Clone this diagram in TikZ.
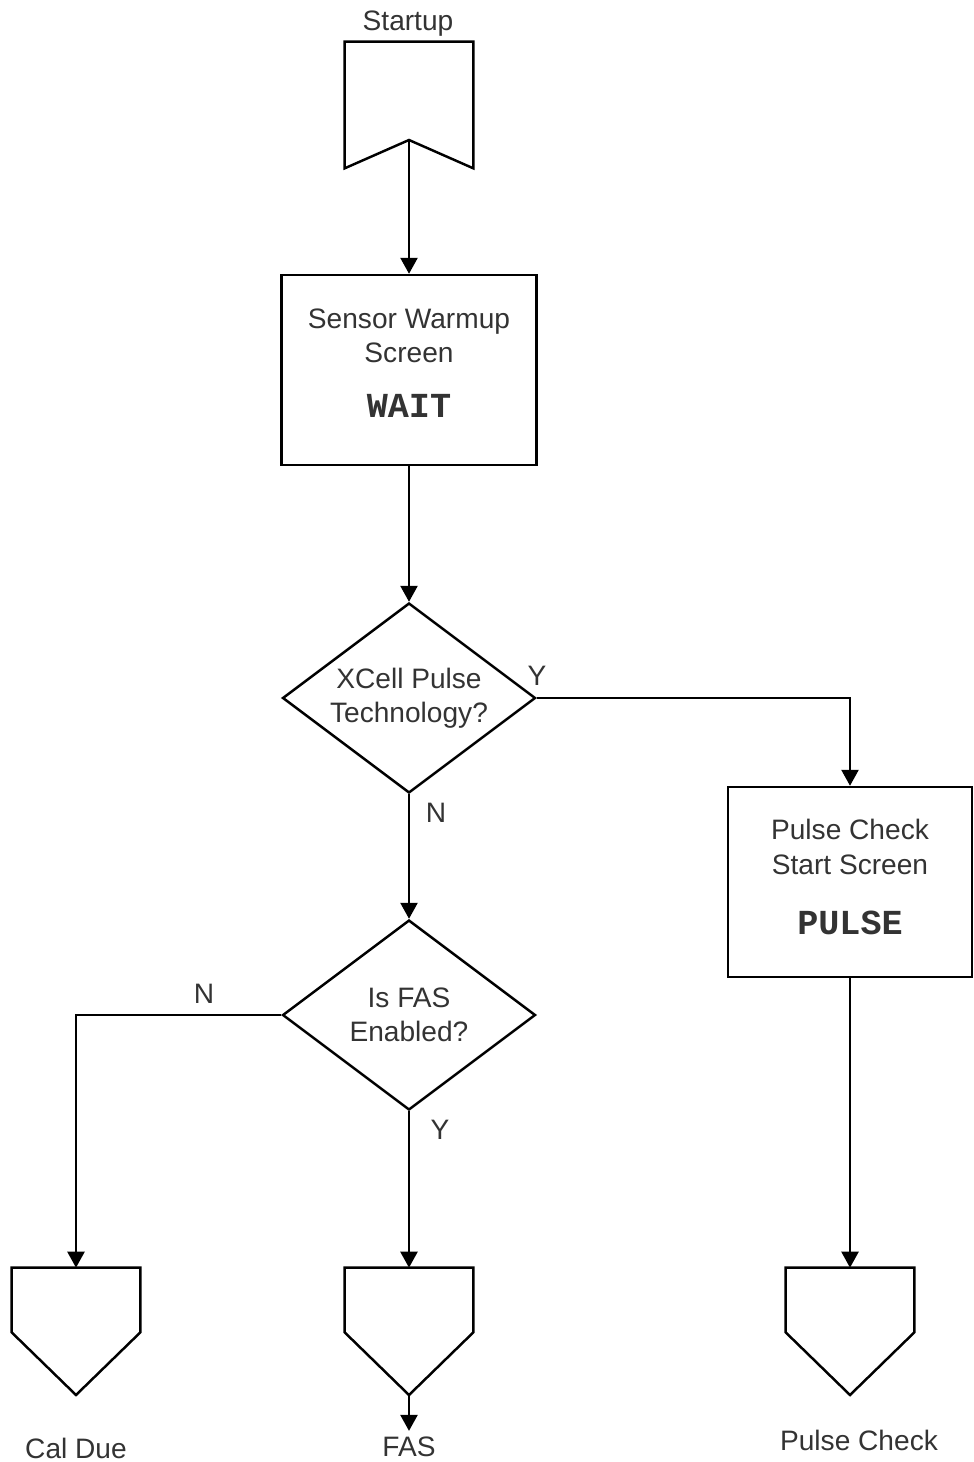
\documentclass[tikz,border=0pt]{standalone}
\usepackage{fontspec}
\setmainfont{Liberation Sans}
\setmonofont{Liberation Mono}
\usepackage{tikz}
\usetikzlibrary{arrows.meta,shapes.geometric,calc}

\newcommand{\screencode}[1]{{\fontsize{20}{24}\selectfont\ttfamily\bfseries #1}}

\begin{document}
\begin{tikzpicture}[x=0.02cm,y=-0.02cm,font=\fontsize{16}{19.5}\selectfont,text=black!80,
screen/.style={rectangle,draw=black,line width=1.4pt,minimum width=5.1cm,minimum height=3.8cm,align=center},
decision/.style={diamond,draw=black,line width=1.4pt,minimum width=5.06cm,minimum height=3.8cm,shape aspect=1.33,align=center,inner sep=0pt},
offpage/.style={rectangle,inner sep=0pt,minimum width=2.56cm},
outline/.style={line width=1.4pt,line join=miter},
edge/.style={line width=1.4pt,->,>={Triangle[length=0.32cm,width=0.34cm]}},
answer/.style={inner sep=0pt}]
\useasboundingbox (0,0) rectangle (973,1462);

\node(startlabel) at (408,24) {Startup};
\node(startup)[offpage,minimum height=2.52cm] at (409,105) {};
\coordinate(startupTip) at (409,140);
\draw[outline] (startup.south west) -- (startup.north west) -- (startup.north east) -- (startup.south east) -- (startupTip) -- cycle;

\node(warmup)[screen] at (409,370) {Sensor Warmup\\Screen\\[11.5pt]\screencode{WAIT}\\[-11.5pt]\mbox{}};
\node(pulsetech)[decision] at (409,698) {XCell Pulse\\Technology?};
\node(pulsescreen)[screen,minimum width=4.88cm] at (850,882) {Pulse Check\\Start Screen\\[15pt]\screencode{PULSE}\\[-14pt]\mbox{}};
\node(fasq)[decision] at (409,1015) {Is FAS\\Enabled?};

\node(caldue)[offpage,minimum height=1.28cm] at (76,1300) {};
\node(fas)[offpage,minimum height=1.28cm] at (409,1300) {};
\node(pulsecheck)[offpage,minimum height=1.28cm] at (850,1300) {};
\coordinate(calTip) at (76,1395);
\coordinate(fasTip) at (409,1395);
\coordinate(pulseTip) at (850,1395);
\draw[outline] (caldue.north west) -- (caldue.north east) -- (caldue.south east) -- (calTip) -- (caldue.south west) -- cycle;
\draw[outline] (fas.north west) -- (fas.north east) -- (fas.south east) -- (fasTip) -- (fas.south west) -- cycle;
\draw[outline] (pulsecheck.north west) -- (pulsecheck.north east) -- (pulsecheck.south east) -- (pulseTip) -- (pulsecheck.south west) -- cycle;

\node(callabel) at (76,1448) {Cal Due};
\node(faslabel) at (409,1447) {FAS};
\node(pulselabel) at (859,1440) {Pulse Check};

\node(ytech)[answer] at (537,676) {Y};
\node(ntech)[answer] at (436,813) {N};
\node(nfas)[answer] at (204,994) {N};
\node(yfas)[answer] at (440,1130) {Y};

\draw [edge] (startupTip) to (warmup);
\draw [edge] (warmup) to (pulsetech);
\draw [edge] (pulsetech) -| (pulsescreen);
\draw [edge] (pulsetech) to (fasq);
\draw [edge] (fasq) -| (caldue);
\draw [edge] (fasq) to (fas);
\draw [edge] (pulsescreen) to (pulsecheck);
\draw [edge] (fasTip) to (faslabel);
\end{tikzpicture}
\end{document}
